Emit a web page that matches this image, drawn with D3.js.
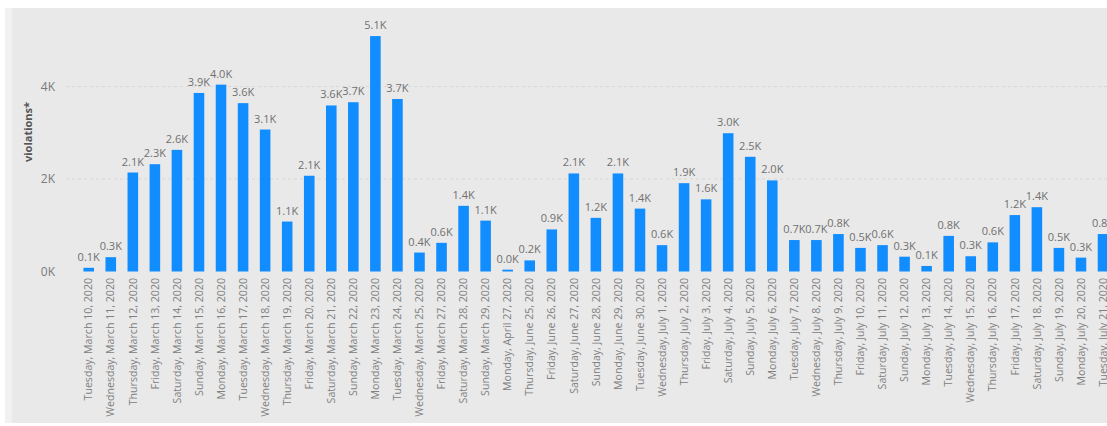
<!DOCTYPE html>
<html>
<head>
<meta charset="utf-8">
<script src="https://cdn.jsdelivr.net/npm/d3@7"></script>
<style>
  html, body { margin: 0; padding: 0; background: #ffffff; }
  svg { display: block; }
  text { font-family: "Open Sans", "Noto Sans", sans-serif; }
</style>
</head>
<body>
<svg id="chart" width="1107" height="426"></svg>
<script>
// Daily violation counts
const categories = [
  "Tuesday, March 10, 2020", "Wednesday, March 11, 2020", "Thursday, March 12, 2020",
  "Friday, March 13, 2020", "Saturday, March 14, 2020", "Sunday, March 15, 2020",
  "Monday, March 16, 2020", "Tuesday, March 17, 2020", "Wednesday, March 18, 2020",
  "Thursday, March 19, 2020", "Friday, March 20, 2020", "Saturday, March 21, 2020",
  "Sunday, March 22, 2020", "Monday, March 23, 2020", "Tuesday, March 24, 2020",
  "Wednesday, March 25, 2020", "Friday, March 27, 2020", "Saturday, March 28, 2020",
  "Sunday, March 29, 2020", "Monday, April 27, 2020", "Thursday, June 25, 2020",
  "Friday, June 26, 2020", "Saturday, June 27, 2020", "Sunday, June 28, 2020",
  "Monday, June 29, 2020", "Tuesday, June 30, 2020", "Wednesday, July 1, 2020",
  "Thursday, July 2, 2020", "Friday, July 3, 2020", "Saturday, July 4, 2020",
  "Sunday, July 5, 2020", "Monday, July 6, 2020", "Tuesday, July 7, 2020",
  "Wednesday, July 8, 2020", "Thursday, July 9, 2020", "Friday, July 10, 2020",
  "Saturday, July 11, 2020", "Sunday, July 12, 2020", "Monday, July 13, 2020",
  "Tuesday, July 14, 2020", "Wednesday, July 15, 2020", "Thursday, July 16, 2020",
  "Friday, July 17, 2020", "Saturday, July 18, 2020", "Sunday, July 19, 2020",
  "Monday, July 20, 2020", "Tuesday, July 21, 2020"
];

const violations = [
  80, 310, 2140, 2320, 2630, 3860, 4040, 3640, 3070, 1080,
  2070, 3590, 3660, 5090, 3730, 410, 620, 1420, 1100, 40,
  240, 910, 2120, 1160, 2120, 1360, 570, 1910, 1560, 2990,
  2480, 1970, 680, 680, 810, 510, 570, 320, 120, 770,
  330, 630, 1220, 1390, 510, 300, 810
];

const yTicks = [0, 2000, 4000];
const yTitle = "violations*";

const svg = d3.select("#chart");
const W = 1107, H = 426;

// panel background
svg.append("rect").attr("x", 5).attr("y", 8).attr("width", W - 5).attr("height", 415)
  .attr("fill", "#e9e9e9");
svg.append("rect").attr("x", 5).attr("y", 8).attr("width", 7).attr("height", 415)
  .attr("fill", "#f1f1f1");

const baseline = 271.5;
const pxPerK = 46.25;
const y = d3.scaleLinear().domain([0, 5500]).range([baseline, baseline - 5.5 * pxPerK]);

const step = 22.05;
const pad = 0.52;
const x0 = 77.7;
const x = d3.scaleBand()
  .domain(categories)
  .range([x0, x0 + step * categories.length])
  .paddingInner(pad)
  .paddingOuter(pad / 2);

// gridlines
svg.append("g")
  .selectAll("line")
  .data(yTicks.filter(t => t > 0))
  .join("line")
  .attr("x1", 66).attr("x2", W)
  .attr("y1", d => y(d)).attr("y2", d => y(d))
  .attr("stroke", "#d8d8d8")
  .attr("stroke-width", 1)
  .attr("stroke-dasharray", "3,3");

// y axis
const yAxis = d3.axisLeft(y)
  .tickValues(yTicks)
  .tickFormat(d => (d / 1000) + "K")
  .tickSize(0)
  .tickPadding(0);
const gy = svg.append("g").attr("transform", "translate(55,0)").call(yAxis);
gy.select(".domain").remove();
gy.selectAll("text")
  .attr("fill", "#7a7a7a")
  .style("font-size", "12px");

// y axis title
svg.append("text")
  .attr("transform", "translate(32,132) rotate(-90)")
  .attr("text-anchor", "middle")
  .attr("fill", "#555555")
  .style("font-size", "11px")
  .style("font-weight", "bold")
  .text(yTitle);

// bars
const data = categories.map((c, i) => ({ c, v: violations[i] }));
svg.append("g")
  .selectAll("rect")
  .data(data)
  .join("rect")
  .attr("x", d => x(d.c))
  .attr("y", d => y(d.v))
  .attr("width", x.bandwidth())
  .attr("height", d => y(0) - y(d.v))
  .attr("fill", "#118dff");

// value labels
svg.append("g")
  .selectAll("text")
  .data(data)
  .join("text")
  .attr("x", d => x(d.c) + x.bandwidth() / 2)
  .attr("y", d => y(d.v) - 7)
  .attr("text-anchor", "middle")
  .attr("fill", "#707070")
  .style("font-size", "11px")
  .text(d => (d.v / 1000).toFixed(1) + "K");

// x axis
const xAxis = d3.axisBottom(x).tickSize(0).tickPadding(0);
const gx = svg.append("g").attr("transform", "translate(0,278)").call(xAxis);
gx.select(".domain").remove();
gx.selectAll("text")
  .attr("transform", "rotate(-90)")
  .attr("text-anchor", "end")
  .attr("x", 0)
  .attr("y", 0)
  .attr("dy", "0.35em")
  .attr("fill", "#808080")
  .style("font-size", "10.6px");
</script>
</body>
</html>
